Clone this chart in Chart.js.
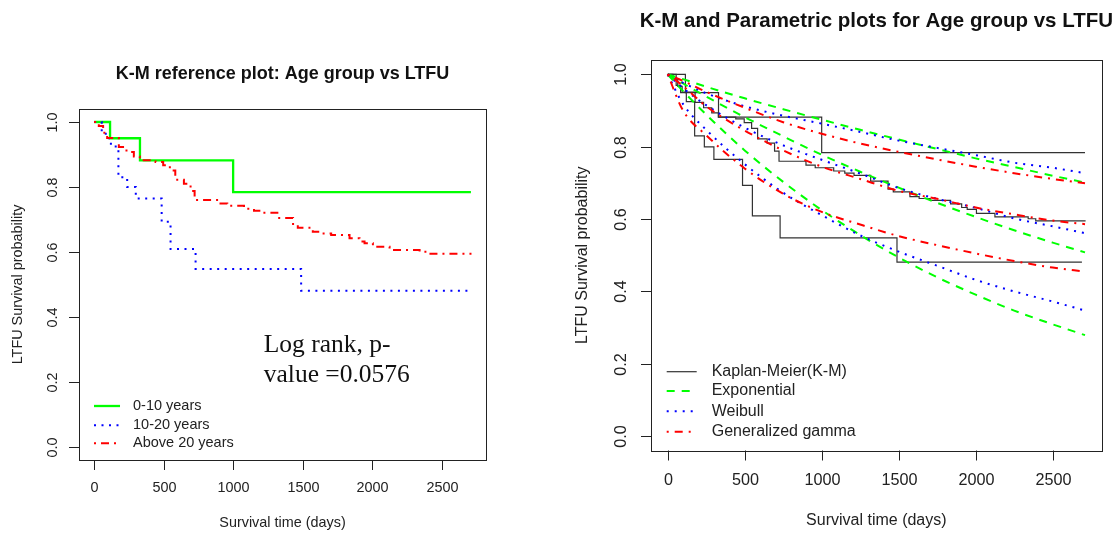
<!DOCTYPE html>
<html>
<head>
<meta charset="utf-8">
<script src="https://cdn.jsdelivr.net/npm/chart.js@4.4.1/dist/chart.umd.min.js"></script>
<style>
  html, body { margin: 0; padding: 0; background: #fff; width: 1112px; height: 533px; overflow: hidden; }
  canvas { position: absolute; top: 0; }
  #left { left: 0; }
  #right { left: 556px; }
</style>
</head>
<body>
<canvas id="left" width="556" height="533" style="width:556px;height:533px"></canvas>
<canvas id="right" width="556" height="533" style="width:556px;height:533px"></canvas>
<script>
// axis ticks and labels
const xTicks = [0, 500, 1000, 1500, 2000, 2500];
const yTicks = [0, 0.2, 0.4, 0.6, 0.8, 1.0];
const groupLabels = ['0-10 years', '10-20 years', 'Above 20 years'];
const modelLabels = ['Kaplan-Meier(K-M)', 'Exponential', 'Weibull', 'Generalized gamma'];

// K-M curves: time of each drop and survival after it
const km010Time = [0, 115, 330, 1000, 2710];
const km010Surv = [1, 0.95, 0.882, 0.784, 0.784];
const km1020Time = [0, 55, 84, 121, 175, 238, 300, 486, 550, 730, 1489, 2690];
const km1020Surv = [1, 0.97, 0.95, 0.925, 0.83, 0.80, 0.765, 0.693, 0.609, 0.548, 0.481, 0.481];
const kmOver20Time = [0, 34, 65, 94, 178, 233, 286, 329, 442, 497, 545, 584, 646, 694, 723, 898, 958, 1078, 1150, 1210,
  1318, 1431, 1465, 1573, 1633, 1705, 1837, 1909, 1945, 2005, 2125, 2341, 2390, 2714];
const kmOver20Surv = [1, 0.988, 0.967, 0.951, 0.923, 0.908, 0.894, 0.882, 0.877, 0.867, 0.851, 0.822, 0.810, 0.788, 0.760, 0.749, 0.742, 0.733, 0.727, 0.721,
  0.705, 0.683, 0.675, 0.662, 0.657, 0.652, 0.642, 0.632, 0.627, 0.616, 0.606, 0.601, 0.595, 0.595];

// parametric fits, read at these times
const fitTime = [0, 100, 250, 500, 750, 1000, 1250, 1500, 1750, 2000, 2250, 2500, 2710];
const exp010 = [1, 0.987, 0.966, 0.934, 0.904, 0.875, 0.847, 0.820, 0.794, 0.768, 0.744, 0.720, 0.701];
const weib010 = [1, 0.977, 0.948, 0.912, 0.886, 0.864, 0.841, 0.817, 0.797, 0.777, 0.756, 0.742, 0.727];
const gg010 = [1, 0.982, 0.952, 0.908, 0.868, 0.836, 0.809, 0.786, 0.765, 0.745, 0.727, 0.711, 0.699];
const expOver20 = [1, 0.975, 0.939, 0.882, 0.829, 0.778, 0.731, 0.687, 0.645, 0.606, 0.569, 0.535, 0.508];
const weibOver20 = [1, 0.962, 0.915, 0.853, 0.804, 0.764, 0.726, 0.686, 0.656, 0.631, 0.602, 0.580, 0.561];
const ggOver20 = [1, 0.968, 0.912, 0.845, 0.790, 0.745, 0.711, 0.678, 0.656, 0.632, 0.613, 0.596, 0.586];
const exp1020 = [1, 0.954, 0.889, 0.790, 0.703, 0.625, 0.556, 0.494, 0.439, 0.391, 0.347, 0.309, 0.279];
const weib1020 = [1, 0.918, 0.847, 0.752, 0.673, 0.611, 0.555, 0.510, 0.471, 0.432, 0.400, 0.372, 0.347];
const gg1020 = [1, 0.900, 0.832, 0.740, 0.670, 0.620, 0.585, 0.553, 0.528, 0.505, 0.484, 0.466, 0.455];

const GREEN = '#00ff00', BLUE = '#0000ff', RED = '#ff0000', KMCOL = '#333';
const SANS = '"Liberation Sans", Arial, sans-serif';

function pts(t, s) { return t.map((v, i) => ({ x: v, y: s[i] })); }

// per chart text/legend layout
const cfg = {
  left: {
    title: 'K-M reference plot: Age group vs LTFU', titleSize: 18, titleGap: 35,
    tick: 14.4, xLab: 27.7, yLab: 26, axisSize: 14.4, xTitle: 63, yTitle: 61,
    legSize: 14.5, legX: 15, legLen: 26, legText: 54, legRows: [-54, -34.7, -16.7],
    legend: [
      { label: groupLabels[0], color: GREEN, dash: [], width: 2.3 },
      { label: groupLabels[1], color: BLUE, dash: [2, 5.5], width: 2 },
      { label: groupLabels[2], color: RED, dash: [2, 5, 8, 5], width: 2 }
    ]
  },
  right: {
    title: 'K-M and Parametric plots for Age group vs LTFU', titleSize: 20.5, titleGap: 39,
    tick: 16.2, xLab: 30.5, yLab: 29.3, axisSize: 16, xTitle: 70, yTitle: 68,
    legSize: 16, legX: 15.7, legLen: 30, legText: 60.7, legRows: [-78.8, -59.5, -39.2, -18.8],
    legend: [
      { label: modelLabels[0], color: KMCOL, dash: [], width: 1.2 },
      { label: modelLabels[1], color: GREEN, dash: [8, 7], width: 2 },
      { label: modelLabels[2], color: BLUE, dash: [2, 6], width: 2 },
      { label: modelLabels[3], color: RED, dash: [2, 6, 8, 6], width: 2 }
    ]
  }
};

// R style box, axes, titles and legend
const rAxes = {
  id: 'rAxes',
  afterDraw(chart) {
    const o = cfg[chart.canvas.id];
    const { ctx, chartArea: a } = chart;
    const x = chart.scales.x, y = chart.scales.y;
    ctx.save();
    ctx.strokeStyle = '#222';
    ctx.fillStyle = '#222';
    ctx.lineWidth = 1;
    ctx.setLineDash([]);
    ctx.strokeRect(Math.round(a.left) + 0.5, Math.round(a.top) + 0.5, Math.round(a.right - a.left), Math.round(a.bottom - a.top));

    ctx.font = o.tick + 'px ' + SANS;
    ctx.textAlign = 'center';
    ctx.textBaseline = 'middle';
    xTicks.forEach(v => {
      const px = Math.round(x.getPixelForValue(v)) + 0.5;
      ctx.beginPath(); ctx.moveTo(px, a.bottom); ctx.lineTo(px, a.bottom + 10); ctx.stroke();
      ctx.fillText(String(v), px, a.bottom + o.xLab);
    });
    yTicks.forEach(v => {
      const py = Math.round(y.getPixelForValue(v)) + 0.5;
      ctx.beginPath(); ctx.moveTo(a.left, py); ctx.lineTo(a.left - 10, py); ctx.stroke();
      ctx.save();
      ctx.translate(a.left - o.yLab, py);
      ctx.rotate(-Math.PI / 2);
      ctx.fillText(v.toFixed(1), 0, 0);
      ctx.restore();
    });

    ctx.font = o.axisSize + 'px ' + SANS;
    ctx.fillText('Survival time (days)', (a.left + a.right) / 2, a.bottom + o.xTitle);
    ctx.save();
    ctx.translate(a.left - o.yTitle, (a.top + a.bottom) / 2);
    ctx.rotate(-Math.PI / 2);
    ctx.fillText('LTFU Survival probability', 0, 0);
    ctx.restore();

    ctx.fillStyle = '#111';
    ctx.font = 'bold ' + o.titleSize + 'px ' + SANS;
    ctx.fillText(o.title, (a.left + a.right) / 2, a.top - o.titleGap);

    // legend
    ctx.font = o.legSize + 'px ' + SANS;
    ctx.textAlign = 'left';
    ctx.fillStyle = '#222';
    o.legend.forEach((it, i) => {
      const ry = a.bottom + o.legRows[i];
      ctx.strokeStyle = it.color;
      ctx.lineWidth = it.width;
      ctx.setLineDash(it.dash);
      ctx.beginPath(); ctx.moveTo(a.left + o.legX, ry); ctx.lineTo(a.left + o.legX + o.legLen, ry); ctx.stroke();
      ctx.fillText(it.label, a.left + o.legText, ry);
    });
    ctx.setLineDash([]);

    if (chart.canvas.id === 'left') {
      ctx.fillStyle = '#111';
      ctx.font = '25.5px "Liberation Serif", "Times New Roman", serif';
      ctx.textBaseline = 'alphabetic';
      ctx.fillText('Log rank, p-', x.getPixelForValue(1220), y.getPixelForValue(0.292));
      ctx.fillText('value =0.0576', x.getPixelForValue(1220), y.getPixelForValue(0.2));
    }
    ctx.restore();
  }
};

function baseOptions(pad) {
  return {
    responsive: false,
    animation: false,
    devicePixelRatio: 1,
    layout: { padding: pad },
    plugins: { legend: { display: false }, title: { display: false }, tooltip: { enabled: false } },
    elements: { point: { radius: 0 } },
    scales: {
      x: { type: 'linear', min: -108.4, max: 2818.4, display: false },
      y: { type: 'linear', min: -0.04, max: 1.04, display: false }
    }
  };
}

function kmSet(t, s, color, dash, width) {
  return { data: pts(t, s), stepped: true, borderColor: color, borderDash: dash, borderWidth: width, fill: false, borderCapStyle: 'butt' };
}
function fitSet(s, color, dash) {
  return { data: pts(fitTime, s), cubicInterpolationMode: 'monotone', borderColor: color, borderDash: dash, borderWidth: 2, fill: false, borderCapStyle: 'butt' };
}

new Chart(document.getElementById('left'), {
  type: 'line',
  data: {
    datasets: [
      kmSet(kmOver20Time, kmOver20Surv, RED, [2, 5, 8, 5], 2),
      kmSet(km1020Time, km1020Surv, BLUE, [2, 5.5], 2),
      kmSet(km010Time, km010Surv, GREEN, [], 2.3)
    ]
  },
  options: baseOptions({ left: 79, right: 70, top: 109, bottom: 73 }),
  plugins: [rAxes]
});

new Chart(document.getElementById('right'), {
  type: 'line',
  data: {
    datasets: [
      fitSet(gg010, RED, [2, 6, 8, 6]),
      fitSet(ggOver20, RED, [2, 6, 8, 6]),
      fitSet(gg1020, RED, [2, 6, 8, 6]),
      fitSet(weib010, BLUE, [2, 6]),
      fitSet(weibOver20, BLUE, [2, 6]),
      fitSet(weib1020, BLUE, [2, 6]),
      fitSet(exp010, GREEN, [8, 7]),
      fitSet(expOver20, GREEN, [8, 7]),
      fitSet(exp1020, GREEN, [8, 7]),
      kmSet(km010Time, km010Surv, KMCOL, [], 1.2),
      kmSet(kmOver20Time, kmOver20Surv, KMCOL, [], 1.2),
      kmSet(km1020Time, km1020Surv, KMCOL, [], 1.2)
    ]
  },
  options: baseOptions({ left: 95, right: 10.3, top: 60, bottom: 82.5 }),
  plugins: [rAxes]
});
</script>
</body>
</html>
